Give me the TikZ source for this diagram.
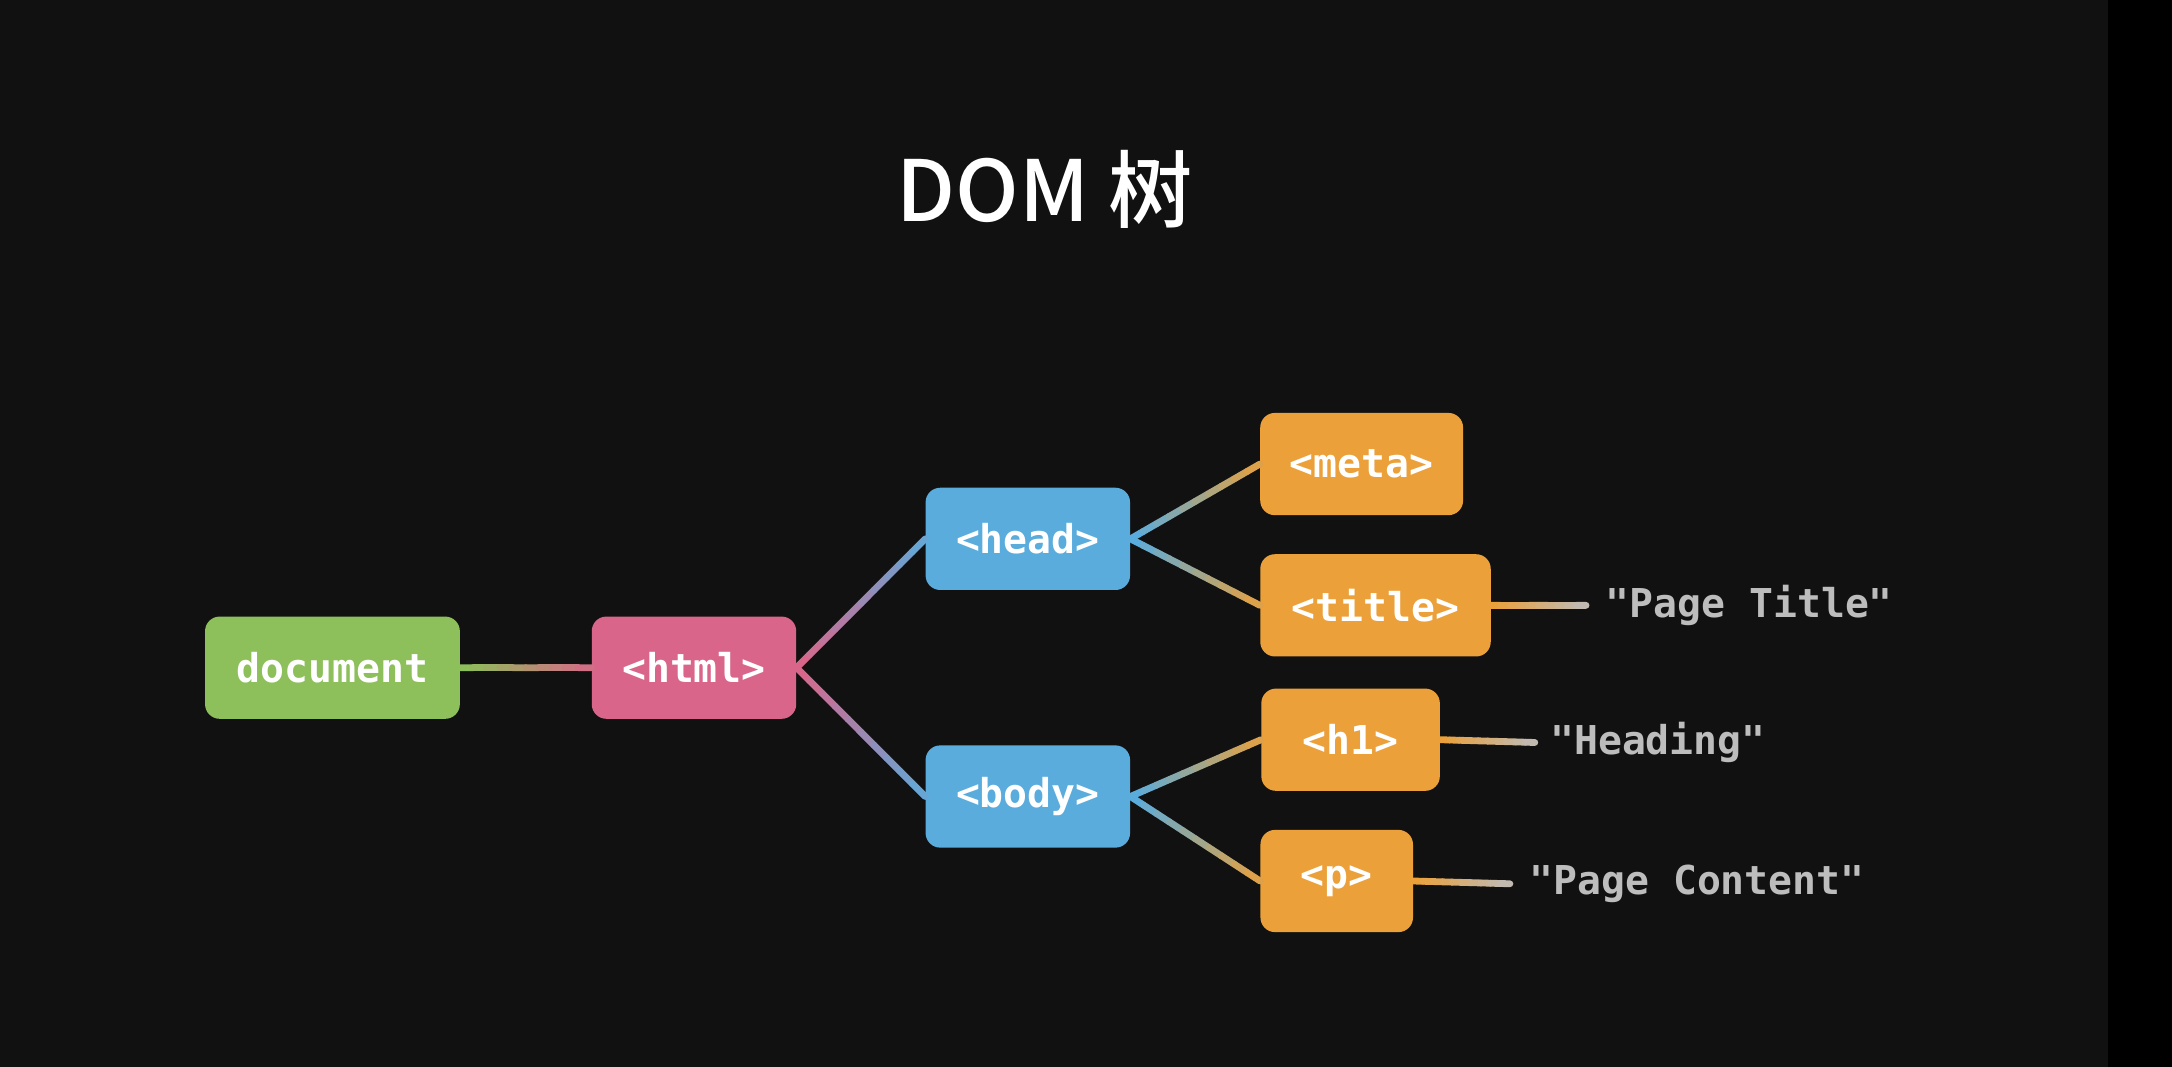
\documentclass[tikz,border=0pt]{standalone}
\usepackage{fontspec}
\usetikzlibrary{calc}
\newfontfamily\cjk{Noto Sans CJK SC Medium}
\newfontfamily\mono{DejaVu Sans Mono}
\definecolor{bg}{HTML}{111111}
\definecolor{cgreen}{HTML}{8DBF5A}
\definecolor{cpink}{HTML}{D9668A}
\definecolor{cblue}{HTML}{5AACDD}
\definecolor{corange}{HTML}{EBA03A}
\definecolor{cstr}{HTML}{BDBDBD}
\tikzset{
 box/.style={rounded corners=9pt, minimum height=63pt, inner xsep=0pt, text=white, font=\mono\bfseries\fontsize{24.5}{26}\selectfont},
 str/.style={text=cstr, font=\mono\bfseries\fontsize{24.5}{26}\selectfont, anchor=west},
}
\newcommand{\gradline}[4]{% from, to, color1, color2
 \foreach \i [evaluate=\i as \j using int(\i+1), evaluate=\i as \p using int(100-\i*10)] in {0,...,9}
  \draw[line width=4.2pt, line cap=round, color=#3!\p!#4] ($(#1)!\i/10!(#2)$) -- ($(#1)!\j/10!(#2)$);}
\begin{document}
\begin{tikzpicture}[x=0.03cm,y=-0.03cm]
\useasboundingbox (0,0) rectangle (1568,770);
\fill[bg] (0,0) rectangle (1568,770);
\fill[black] (1522,0) rectangle (1568,770);
\node[font=\cjk\fontsize{52}{56}\selectfont, text=white] (t) at (754,137) {DOM 树};
\node[box, fill=cgreen, minimum width=157pt] (doc) at (240,482) {document};
\node[box, fill=cpink, minimum width=126pt] (html) at (501,482) {<html>};
\node[box, fill=cblue, minimum width=126pt] (head) at (742,389) {<head>};
\node[box, fill=cblue, minimum width=126pt] (body) at (742,575) {<body>};
\node[box, fill=corange, minimum width=125pt] (meta) at (983,335) {<meta>};
\node[box, fill=corange, minimum width=142pt] (title) at (993,437) {<title>};
\node[box, fill=corange, minimum width=110pt] (h1) at (975,534) {<h1>};
\node[box, fill=corange, minimum width=94pt] (p) at (965,636) {<p>};
\node[str] (s1) at (1155,437) {"Page Title"};
\node[str] (s2) at (1115,536) {"Heading"};
\node[str] (s3) at (1100,638) {"Page Content"};
\coordinate (e1) at (1145,437);
\coordinate (e2) at (1108,536);
\coordinate (e3) at (1090,638);
\gradline{doc.east}{html.west}{cgreen}{cpink}
\gradline{html.east}{head.west}{cpink}{cblue}
\gradline{html.east}{body.west}{cpink}{cblue}
\gradline{head.east}{meta.west}{cblue}{corange}
\gradline{head.east}{title.west}{cblue}{corange}
\gradline{body.east}{h1.west}{cblue}{corange}
\gradline{body.east}{p.west}{cblue}{corange}
\gradline{title.east}{e1}{corange}{cstr}
\gradline{h1.east}{e2}{corange}{cstr}
\gradline{p.east}{e3}{corange}{cstr}
\end{tikzpicture}
\end{document}
